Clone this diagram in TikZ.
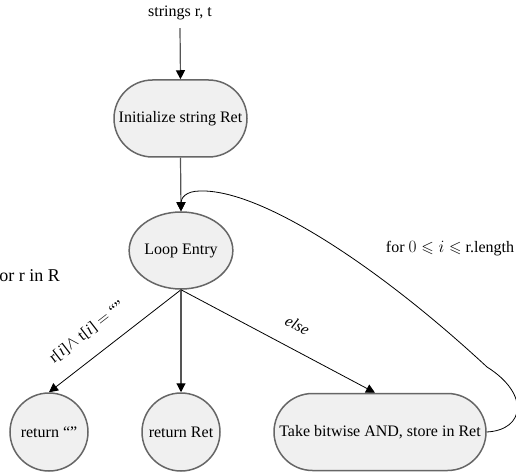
\documentclass[tikz,border=0pt]{standalone}
\usepackage{amssymb}
\usepackage{fontspec}
\setmainfont{Liberation Serif}
\usetikzlibrary{arrows.meta,shapes.misc,shapes.geometric}

\definecolor{nodefill}{HTML}{F0F0F0}
\definecolor{nodeline}{HTML}{666666}
\definecolor{edgegray}{HTML}{555555}

\tikzset{
  txt/.style={font=\fontsize{16pt}{19pt}\selectfont},
  stadium/.style={txt, rounded rectangle, draw=nodeline, line width=1.5pt, fill=nodefill, inner sep=2pt},
  roundnode/.style={txt, circle, draw=nodeline, line width=1.5pt, fill=nodefill, inner sep=0pt, minimum size=78pt},
  tip/.style={-{Triangle[length=9pt,width=9pt,color=black]}},
  grayedge/.style={tip, draw=edgegray, line width=1.2pt},
  thinedge/.style={tip, draw=black, line width=0.8pt},
}

\begin{document}
\begin{tikzpicture}[x=1pt,y=1pt]
\useasboundingbox (0,0) rectangle (516,474);

% nodes
\node[txt, inner sep=0pt, minimum height=30pt] (str) at (180,461) {strings r, t};
\node[stadium, minimum width=137pt, minimum height=77pt] (init) at (180.5,355.5) {Initialize string Ret};
\node[txt, ellipse, draw=nodeline, line width=1.5pt, fill=nodefill, inner sep=0pt,
      minimum width=88pt, minimum height=77pt] (loop) at (181,223.5) {Loop Entry};
\node[roundnode] (ret0) at (49,42) {return “”};
\node[roundnode] (retR) at (181,42) {return Ret};
\node[stadium, minimum width=216pt, minimum height=77pt] (and) at (380,42) {Take bitwise AND, store in Ret};

\node[font=\fontsize{18pt}{21pt}\selectfont, anchor=base east, inner sep=0pt] (forr) at (60,192) {for r in R};
\node[txt, anchor=base, inner sep=0pt] (fori) at (450,221) {for $0\leqslant i\leqslant$ r.length};

% helper points of the back edge
\coordinate (bend1) at (487,107);
\coordinate (bend2) at (200,283);

% connectors
\draw[grayedge] (str.south) -- (init.north);
\draw[grayedge] (init.south) -- (loop.north);
\draw[thinedge] (loop.south) -- (ret0.north)
  node[txt, sloped, pos=0.6, above=17pt, inner sep=0pt] (lbl0) {r[\textit{i}]$\wedge$ t[\textit{i}] $=$ “”};
\draw[grayedge] (loop.south) -- (retR.north);
\draw[thinedge] (loop.south) -- ([xshift=-5pt]and.north)
  node[txt, sloped, pos=0.545, above=17pt, inner sep=0pt] (lbl1) {\textit{else}};
\draw[thinedge] (and.east) .. controls (525,44) and (530,80) .. (bend1)
  .. controls (377,209) and (260,285) .. (bend2)
  .. controls (186,283) and (181,276) .. (loop.north);
\end{tikzpicture}
\end{document}
